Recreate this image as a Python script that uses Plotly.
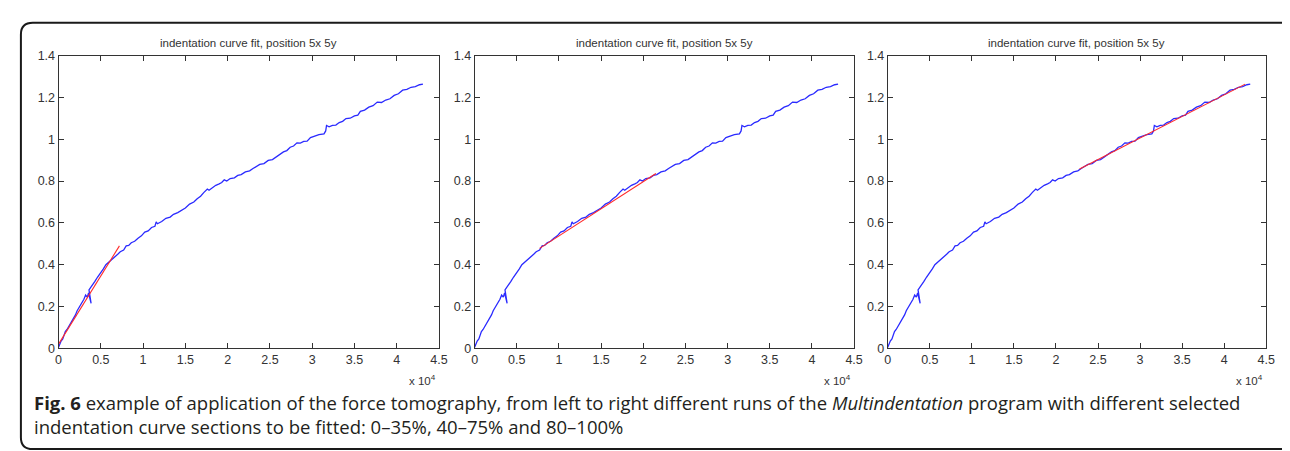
import plotly.graph_objects as go

# ---- data (x in units of 10^4) ----
curve_x = [0.00, 0.03, 0.05, 0.08, 0.10, 0.13, 0.15, 0.18, 0.20, 0.22, 0.25, 0.28, 0.30, 0.32, 0.34,
           0.355, 0.365, 0.385, 0.36, 0.40, 0.43, 0.46, 0.50, 0.53, 0.56, 0.59, 0.62, 0.65, 0.70, 0.73,
           0.77, 0.80, 0.83, 0.86, 0.90, 0.94, 0.98, 1.02, 1.06, 1.10, 1.14, 1.155, 1.17, 1.22, 1.27,
           1.32, 1.36, 1.41, 1.45, 1.50, 1.55, 1.60, 1.64, 1.68, 1.72, 1.76, 1.78, 1.82, 1.86, 1.90,
           1.93, 1.96, 1.99, 2.03, 2.08, 2.12, 2.16, 2.21, 2.26, 2.30, 2.34, 2.38, 2.43, 2.48, 2.53,
           2.58, 2.62, 2.66, 2.70, 2.74, 2.78, 2.82, 2.86, 2.90, 2.94, 2.98, 3.03, 3.08, 3.14, 3.16,
           3.17, 3.20, 3.24, 3.28, 3.32, 3.36, 3.40, 3.45, 3.50, 3.54, 3.57, 3.62, 3.67, 3.72, 3.77,
           3.82, 3.87, 3.92, 3.97, 4.02, 4.07, 4.12, 4.17, 4.22, 4.27, 4.31]
curve_y = [0.005, 0.035, 0.045, 0.08, 0.09, 0.11, 0.13, 0.15, 0.16, 0.18, 0.20, 0.22, 0.235, 0.255, 0.245,
           0.265, 0.245, 0.215, 0.28, 0.30, 0.32, 0.34, 0.36, 0.38, 0.40, 0.41, 0.42, 0.43, 0.45, 0.462,
           0.47, 0.49, 0.492, 0.505, 0.512, 0.527, 0.538, 0.556, 0.562, 0.578, 0.584, 0.605, 0.596, 0.607, 0.622,
           0.628, 0.641, 0.649, 0.66, 0.671, 0.690, 0.700, 0.716, 0.728, 0.746, 0.762, 0.756, 0.770, 0.780, 0.787,
           0.793, 0.806, 0.800, 0.812, 0.816, 0.827, 0.831, 0.844, 0.849, 0.860, 0.870, 0.880, 0.884, 0.899, 0.903,
           0.918, 0.926, 0.940, 0.946, 0.962, 0.968, 0.983, 0.982, 0.990, 0.991, 1.008, 1.015, 1.022, 1.026, 1.040,
           1.066, 1.060, 1.067, 1.068, 1.080, 1.086, 1.099, 1.101, 1.112, 1.116, 1.134, 1.140, 1.154, 1.161, 1.178,
           1.176, 1.188, 1.194, 1.210, 1.218, 1.235, 1.239, 1.249, 1.252, 1.261, 1.264]

fit1_x = [0.0, 0.72]
fit1_y = [0.02, 0.49]
fit2_x = [0.77, 2.15]
fit2_y = [0.478, 0.836]
fit3_x = [2.28, 4.25]
fit3_y = [0.858, 1.264]

x_ticks = [0, 0.5, 1, 1.5, 2, 2.5, 3, 3.5, 4, 4.5]
x_labels = ["0", "0.5", "1", "1.5", "2", "2.5", "3", "3.5", "4", "4.5"]
y_ticks = [0, 0.2, 0.4, 0.6, 0.8, 1.0, 1.2, 1.4]
y_labels = ["0", "0.2", "0.4", "0.6", "0.8", "1", "1.2", "1.4"]

panel_title = "indentation curve fit, position 5x 5y"
caption_1 = ("<b>Fig. 6</b> example of application of the force tomography, from left to right different runs of the "
             "<i>Multindentation</i> program with different selected")
caption_2 = "indentation curve sections to be fitted: 0–35%, 40–75% and 80–100%"

W, H = 1290, 451
fits = [(fit1_x, fit1_y), (fit2_x, fit2_y), (fit3_x, fit3_y)]
panel_px = [(48, 432), (468, 851), (885, 1267)]
top_px, bot_px = 42, 344

fig = go.Figure()
annotations = []
layout_axes = {}
for i, ((fx, fy), (x0, x1)) in enumerate(zip(fits, panel_px)):
    n = "" if i == 0 else str(i + 1)
    xa, ya = "x" + n, "y" + n
    fig.add_trace(go.Scatter(x=curve_x, y=curve_y, mode="lines", xaxis=xa, yaxis=ya,
                             line=dict(color="#2a2aff", width=1.3), showlegend=False, hoverinfo="skip"))
    fig.add_trace(go.Scatter(x=fx, y=fy, mode="lines", xaxis=xa, yaxis=ya,
                             line=dict(color="#ff2a2a", width=1.1), showlegend=False, hoverinfo="skip"))
    common = dict(showline=True, mirror="allticks", linecolor="#333333", linewidth=1,
                  ticks="inside", ticklen=5, tickcolor="#333333", tickwidth=1,
                  showgrid=False, zeroline=False,
                  tickfont=dict(family="Liberation Sans", size=12.5, color="#333333"))
    layout_axes["xaxis" + n] = dict(common, domain=[x0 / W, x1 / W], range=[0, 4.5],
                                    tickvals=x_ticks, ticktext=x_labels, anchor=ya)
    layout_axes["yaxis" + n] = dict(common, domain=[1 - bot_px / H, 1 - top_px / H], range=[0, 1.4],
                                    tickvals=y_ticks, ticktext=y_labels, anchor=xa)
    annotations.append(dict(text=panel_title, x=(x0 + x1) / 2 / W, y=1 - 29 / H, xref="paper", yref="paper",
                            showarrow=False, xanchor="center", yanchor="middle",
                            font=dict(family="Liberation Sans", size=11.5, color="#333333")))
    annotations.append(dict(text="x 10<sup>4</sup>", x=(x1 - 1) / W, y=1 - 377 / H, xref="paper", yref="paper",
                            showarrow=False, xanchor="right", yanchor="middle",
                            font=dict(family="Liberation Sans", size=11.5, color="#333333")))

annotations.append(dict(text=caption_1, x=21 / W, y=1 - 400 / H, xref="paper", yref="paper",
                        showarrow=False, xanchor="left", yanchor="middle",
                        font=dict(family="Open Sans", size=18.5, color="#231f20")))
annotations.append(dict(text=caption_2, x=21 / W, y=1 - 425 / H, xref="paper", yref="paper",
                        showarrow=False, xanchor="left", yanchor="middle",
                        font=dict(family="Open Sans", size=18.5, color="#231f20")))

# rounded frame around the figure
def px(x, y):
    return f"{x / W:.5f},{1 - y / H:.5f}"

L, T, R, B, r = 10, 8, 1300, 448, 12
frame = (f"M {px(R, T)} L {px(L + r, T)} Q {px(L, T)} {px(L, T + r)} "
         f"L {px(L, B - r)} Q {px(L, B)} {px(L + r, B)} L {px(R, B)}")

fig.update_layout(
    width=W, height=H, margin=dict(l=0, r=0, t=0, b=0),
    paper_bgcolor="white", plot_bgcolor="white",
    annotations=annotations,
    shapes=[dict(type="path", xref="paper", yref="paper", path=frame,
                 line=dict(color="#1a1a1a", width=2))],
    **layout_axes,
)
fig.write_html("out.html")
